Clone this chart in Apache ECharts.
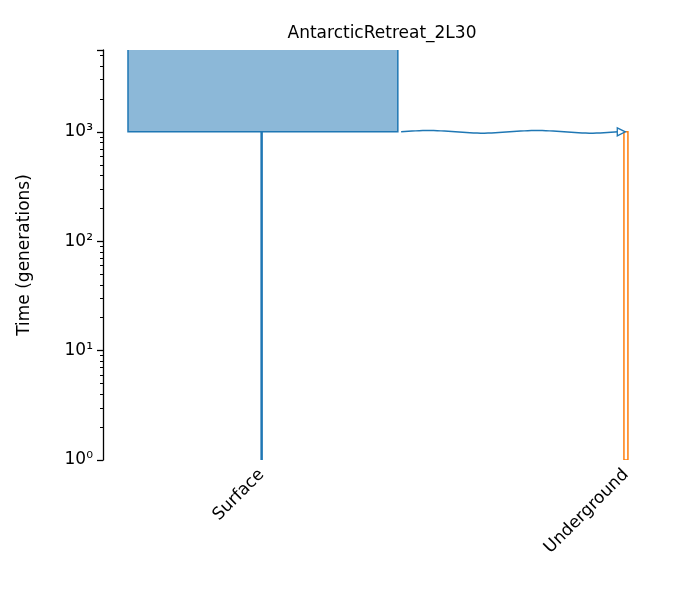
<!DOCTYPE html>
<html style="height: 100%">
<head>
<meta charset="utf-8">
<script src="https://cdn.jsdelivr.net/npm/echarts@6/dist/echarts.min.js"></script>
</head>
<body style="height: 100%; margin: 0; background: #fff">
<div id="container" style="width: 675px; height: 600px"></div>
<script>
var demeNames = ['Surface', 'Underground'];
var demeCenters = [0.29, 0.956];
// [left, right, start time, end time]
var surfaceBox = [0.0457, 0.539, 1000, 5600];
var surfaceLine = [0.29, 1, 1000];
var undergroundLine = [0.956, 1, 1000];
var migration = { from: 0.545, to: 0.942, time: 1000 };
var yMin = 1, yMax = 5600;

var chart = echarts.init(document.getElementById('container'));
var sup = { '0': '⁰', '1': '¹', '2': '²', '3': '³' };

function renderItem(params, api) {
  var children = [];
  var b0 = api.coord([surfaceBox[0], surfaceBox[3]]);
  var b1 = api.coord([surfaceBox[1], surfaceBox[2]]);
  children.push({ type: 'rect', shape: { x: b0[0], y: b0[1] - 5, width: b1[0] - b0[0], height: b1[1] - b0[1] + 5 },
    style: { fill: '#8cb8d8', stroke: '#1f77b4', lineWidth: 1.5 } });
  var s0 = api.coord([surfaceLine[0], surfaceLine[2]]);
  var s1 = api.coord([surfaceLine[0], surfaceLine[1]]);
  children.push({ type: 'line', shape: { x1: s0[0], y1: s0[1], x2: s1[0], y2: s1[1] }, style: { stroke: '#1f77b4', lineWidth: 2.5 } });
  var u0 = api.coord([undergroundLine[0], undergroundLine[2]]);
  var u1 = api.coord([undergroundLine[0], undergroundLine[1]]);
  children.push({ type: 'rect', shape: { x: u0[0] - 2, y: u0[1], width: 4, height: u1[1] - u0[1] },
    style: { fill: '#fff', stroke: '#ff7f0e', lineWidth: 1.5 } });
  var m0 = api.coord([migration.from, migration.time]);
  var m1 = api.coord([migration.to, migration.time]);
  var pts = [];
  for (var i = 0; i <= 60; i++) {
    var t = i / 60;
    pts.push([m0[0] + (m1[0] - m0[0]) * t, m0[1] - 1.3 * Math.sin(t * Math.PI * 4)]);
  }
  children.push({ type: 'polyline', shape: { points: pts }, style: { stroke: '#1f77b4', lineWidth: 1.5, fill: null } });
  children.push({ type: 'polygon', shape: { points: [[m1[0] - 1, m1[1] - 4], [m1[0] + 7, m1[1]], [m1[0] - 1, m1[1] + 4]] },
    style: { fill: '#fff', stroke: '#1f77b4', lineWidth: 1.3 } });
  return { type: 'group', children: children };
}

var option = {
  animation: false,
  title: { text: 'AntarcticRetreat_2L30', left: 377, top: 20, textAlign: 'center',
    textStyle: { fontFamily: 'DejaVu Sans', fontWeight: 'normal', fontSize: 17, color: '#000' } },
  grid: { left: 103, right: 25, top: 50, bottom: 140 },
  xAxis: {
    type: 'value', min: 0, max: 1,
    axisLine: { show: false }, splitLine: { show: false },
    axisTick: { show: false },
    axisLabel: { customValues: demeCenters, rotate: 45, margin: 12, fontSize: 17, fontFamily: 'DejaVu Sans', color: '#000',
      formatter: function (v) { return demeNames[demeCenters.indexOf(v)] || ''; } }
  },
  yAxis: {
    type: 'log', logBase: 10, min: yMin, max: yMax,
    name: 'Time (generations)', nameLocation: 'middle', nameGap: 70,
    nameTextStyle: { fontSize: 17, fontFamily: 'DejaVu Sans', color: '#000' },
    axisLine: { show: true, lineStyle: { color: '#000', width: 1.3 } },
    axisTick: { show: true, length: 6, lineStyle: { color: '#000', width: 1.3 } },
    minorTick: { show: true, splitNumber: 9, length: 3, lineStyle: { color: '#000' } },
    splitLine: { show: false },
    axisLabel: { fontSize: 17, fontFamily: 'DejaVu Sans', color: '#000', margin: 10,
      formatter: function (v) {
        var e = Math.round(Math.log10(v));
        if (Math.abs(Math.pow(10, e) - v) > 1e-6 * v) return '';
        return '10' + (sup[e] || e);
      } }
  },
  series: [{ type: 'custom', renderItem: renderItem, data: [[0, 1]], clip: true }]
};
chart.setOption(option);
</script>
</body>
</html>
